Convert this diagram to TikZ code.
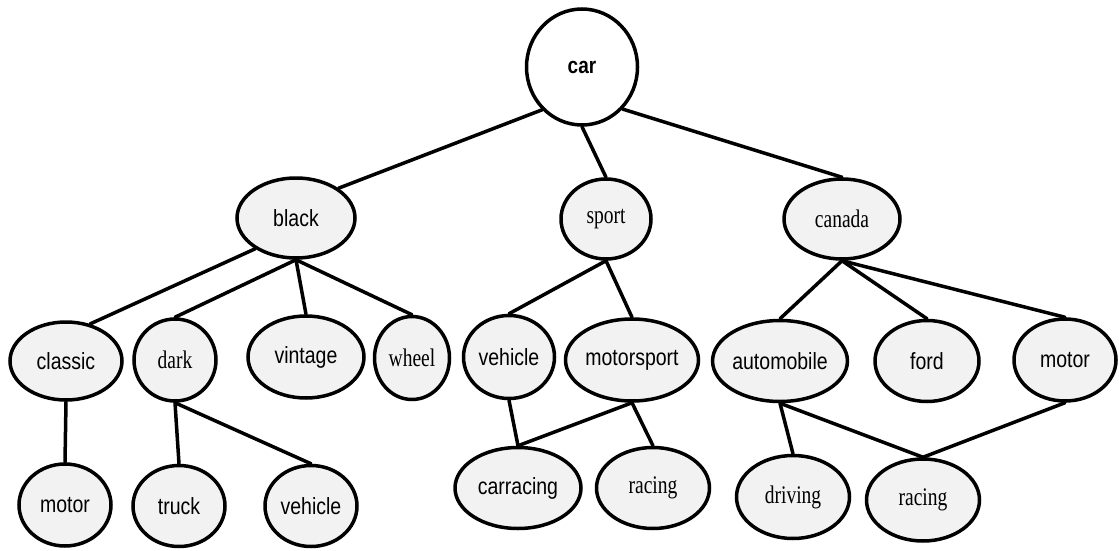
\documentclass[tikz,border=0pt]{standalone}
\usepackage{fontspec}
\setmainfont{Liberation Serif}
\setsansfont{Liberation Sans}
\usetikzlibrary{shapes.geometric}
\definecolor{nodefill}{HTML}{F2F2F2}
% labels are set a little taller than the font's natural shape
\newcommand{\talltext}[2][1.2]{\scalebox{1}[#1]{#2}}
\tikzset{
  term/.style={ellipse, draw=black, line width=3.5pt, fill=nodefill, inner sep=0pt,
    minimum width=#1},
  sansterm/.style={term=#1, font=\sffamily\fontsize{19.5}{19.5}\selectfont},
  serifterm/.style={term=#1, font=\rmfamily\fontsize{19.5}{19.5}\selectfont},
  link/.style={line width=3.5pt, line cap=round}
}
\begin{document}
\begin{tikzpicture}[x=1pt,y=-1pt]
\useasboundingbox (0,0) rectangle (1119,551);
% root
\node[ellipse, draw=black, line width=3.5pt, fill=white, minimum width=111pt, minimum height=116pt,
  inner sep=0pt, font=\sffamily\bfseries\fontsize{19}{19}\selectfont] (car) at (582,67) {\talltext{car}};
% second level
\node[sansterm=118pt, minimum height=80pt] (black) at (296,218) {\talltext{black}};
\node[serifterm=90pt, minimum height=80pt] (sport) at (606,219) {\talltext[1.3]{sport}};
\node[serifterm=116pt, minimum height=80pt] (canada) at (842,219) {\talltext[1.3]{canada}};
% third level
\node[sansterm=112pt, minimum height=78pt] (classic) at (66,361) {\talltext{classic}};
\node[serifterm=82pt, minimum height=82pt] (dark) at (175,360) {\talltext[1.3]{dark}};
\node[sansterm=116pt, minimum height=82pt] (vintage) at (306,357) {\talltext{vintage}};
\node[serifterm=75pt, minimum height=83pt] (wheel) at (412,358) {\talltext[1.3]{wheel}};
\node[sansterm=91pt, minimum height=83pt] (vehicleB) at (509,357) {\talltext{vehicle}};
\node[sansterm=133pt, minimum height=82pt] (motorsport) at (632,360) {\talltext{motorsport}};
\node[sansterm=114pt, minimum height=81pt] (automobile) at (780,361) {\talltext{automobile}};
\node[sansterm=104pt, minimum height=81pt] (ford) at (927,361) {\talltext{ford}};
\node[sansterm=102pt, minimum height=82pt] (motorB) at (1065,360) {\talltext{motor}};
% fourth level
\node[sansterm=92pt, minimum height=82pt] (motorA) at (65,505) {\talltext{motor}};
\node[sansterm=92pt, minimum height=81pt] (truck) at (179,506) {\talltext{truck}};
\node[sansterm=92pt, minimum height=81pt] (vehicleA) at (311,506) {\talltext{vehicle}};
\node[sansterm=126pt, minimum height=81pt] (carracing) at (518,488) {\talltext{carracing}};
\node[serifterm=113pt, minimum height=81pt] (racingA) at (653,488) {\talltext[1.3]{racing}};
\node[serifterm=113pt, minimum height=83pt] (driving) at (793,497) {\talltext[1.3]{driving}};
\node[serifterm=113pt, minimum height=82pt] (racingB) at (923,500) {\talltext[1.3]{racing}};
% connectors
\draw[link] (car.-133) -- (black.35);
\draw[link] (car.south) -- (sport.north);
\draw[link] (car.-46) -- (canada.north);
\draw[link] (black.-143) -- (classic.57);
\draw[link] (black.south) -- (dark.north);
\draw[link] (black.south) -- (vintage.north);
\draw[link] (black.south) -- (wheel.north);
\draw[link] (classic.south) -- (motorA.north);
\draw[link] (dark.south) -- (truck.north);
\draw[link] (dark.south) -- (vehicleA.north);
\draw[link] (sport.south) -- (vehicleB.north);
\draw[link] (sport.south) -- (motorsport.north);
\draw[link] (vehicleB.south) -- (carracing.north);
\draw[link] (motorsport.south) -- (carracing.north);
\draw[link] (motorsport.south) -- (racingA.north);
\draw[link] (canada.south) -- (automobile.north);
\draw[link] (canada.south) -- (ford.north);
\draw[link] (canada.south) -- (motorB.north);
\draw[link] (automobile.south) -- (driving.north);
\draw[link] (automobile.south) -- (racingB.north);
\draw[link] (motorB.south) -- (racingB.north);
\end{tikzpicture}
\end{document}
